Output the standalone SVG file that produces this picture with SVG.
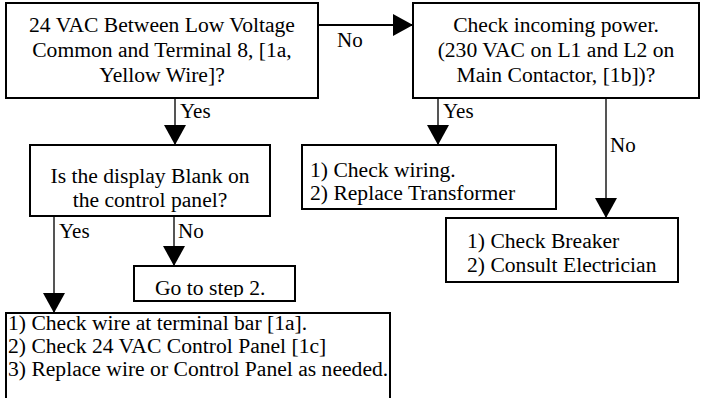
<svg xmlns="http://www.w3.org/2000/svg" width="701" height="398" viewBox="0 0 701 398" font-family="'Liberation Serif', 'Times New Roman', serif" font-size="21.6">
<style>
.box{fill:#fff;stroke:#000;stroke-width:2}
text{fill:#000}
.c{text-anchor:middle}
.lbl{font-size:21px}
.conn{stroke:#555;stroke-width:2;fill:none}
.hconn{stroke:#000;stroke-width:2;fill:none}
</style>
<defs>
<marker id="ah" markerUnits="userSpaceOnUse" markerWidth="22" markerHeight="22" viewBox="0 0 20 22" refX="20" refY="11" orient="auto">
<path d="M0,0 L20,11 L0,22 z" fill="#000"/>
</marker>
<clipPath id="goclip"><rect x="134" y="266" width="161" height="31"/></clipPath>
</defs>
<rect width="701" height="398" fill="#fff"/>
<g id="connectors">
<line class="hconn" x1="318" y1="25" x2="413" y2="25" marker-end="url(#ah)"/>
<text class="lbl" x="337" y="47">No</text>
<line class="conn" x1="175" y1="98" x2="175" y2="145" marker-end="url(#ah)"/>
<text class="lbl" x="180" y="118">Yes</text>
<line class="conn" x1="438" y1="98" x2="438" y2="145" marker-end="url(#ah)"/>
<text class="lbl" x="443" y="118">Yes</text>
<line class="conn" x1="606" y1="98" x2="606" y2="218" marker-end="url(#ah)"/>
<text class="lbl" x="610" y="152">No</text>
<line class="conn" x1="54" y1="216" x2="54" y2="313" marker-end="url(#ah)"/>
<text class="lbl" x="59" y="238">Yes</text>
<line class="conn" x1="174" y1="216" x2="174" y2="266" marker-end="url(#ah)"/>
<text class="lbl" x="178" y="238">No</text>
</g>
<g id="n1">
<rect class="box" x="6" y="3" width="312" height="95"/>
<text class="c" x="162" y="32">24 VAC Between Low Voltage</text>
<text class="c" x="162" y="57">Common and Terminal 8, [1a,</text>
<text class="c" x="162" y="82">Yellow Wire]?</text>
</g>
<g id="n2">
<rect class="box" x="413" y="3" width="286" height="95"/>
<text class="c" x="556" y="32">Check incoming power.</text>
<text class="c" x="556" y="57">(230 VAC on L1 and L2 on</text>
<text class="c" x="556" y="82">Main Contactor, [1b])?</text>
</g>
<g id="n3">
<rect class="box" x="30" y="145" width="240" height="71"/>
<text class="c" x="150" y="183">Is the display Blank on</text>
<text class="c" x="150" y="207">the control panel?</text>
</g>
<g id="n4">
<rect class="box" x="302" y="145" width="254" height="64"/>
<text x="310" y="177">1) Check wiring.</text>
<text x="310" y="200">2) Replace Transformer</text>
</g>
<g id="n5">
<rect class="box" x="446" y="218" width="232" height="64"/>
<text x="467" y="248">1) Check Breaker</text>
<text x="467" y="272">2) Consult Electrician</text>
</g>
<g id="n6">
<rect class="box" x="134" y="266" width="161" height="35"/>
<text x="155" y="295" clip-path="url(#goclip)">Go to step 2.</text>
</g>
<g id="n7">
<rect class="box" x="6" y="313" width="384" height="95"/>
<text x="8" y="330">1) Check wire at terminal bar [1a].</text>
<text x="8" y="353">2) Check 24 VAC Control Panel [1c]</text>
<text x="8" y="376">3) Replace wire or Control Panel as needed.</text>
</g>
</svg>
